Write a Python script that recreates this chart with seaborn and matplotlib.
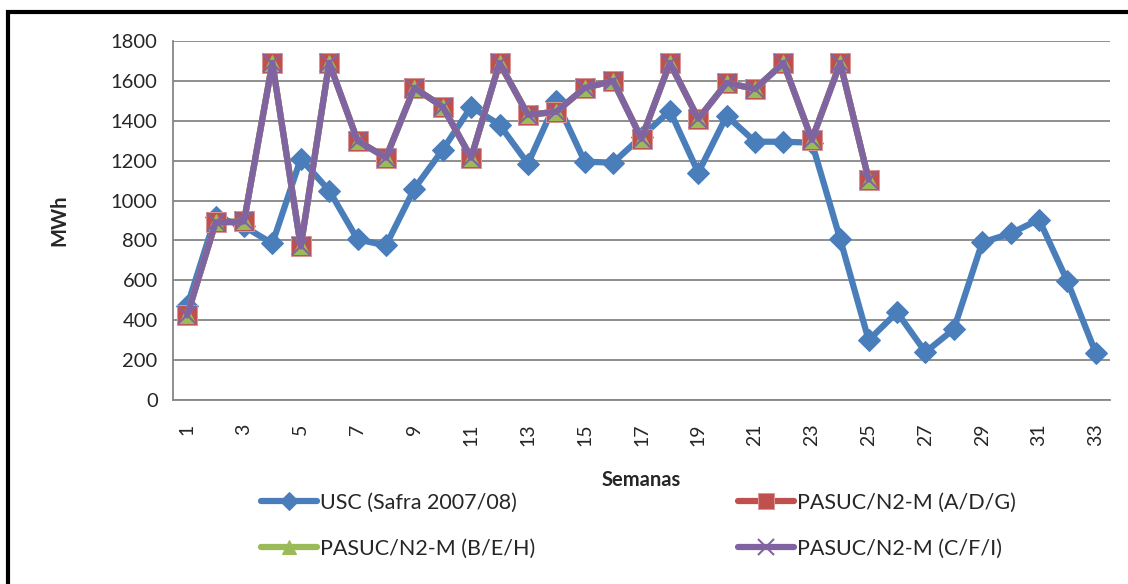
import numpy as np
import pandas as pd
import seaborn as sns
import matplotlib.pyplot as plt
from matplotlib.patches import Rectangle
from matplotlib.ticker import MultipleLocator

# data

weeks_usc = list(range(1, 34))
usc = [470, 920, 870, 785, 1210, 1050, 805, 775, 1060, 1255,
       1470, 1380, 1185, 1500, 1195, 1190, 1320, 1450, 1140, 1425,
       1295, 1295, 1290, 805, 300, 440, 240, 355, 790, 835,
       905, 595, 235]

weeks_pasuc = list(range(1, 26))
pasuc_adg = [425, 890, 895, 1690, 770, 1690, 1300, 1215, 1565, 1470,
             1215, 1690, 1430, 1445, 1565, 1600, 1310, 1690, 1410, 1590,
             1560, 1690, 1305, 1690, 1105]
pasuc_beh = [425, 890, 895, 1690, 770, 1690, 1300, 1215, 1565, 1470,
             1215, 1690, 1430, 1445, 1565, 1600, 1310, 1690, 1410, 1590,
             1560, 1690, 1305, 1690, 1105]
pasuc_cfi = [425, 890, 895, 1690, 770, 1690, 1300, 1215, 1565, 1470,
             1215, 1690, 1430, 1445, 1565, 1600, 1310, 1690, 1410, 1590,
             1560, 1690, 1305, 1690, 1105]

labels = ["USC (Safra 2007/08)", "PASUC/N2-M (A/D/G)",
          "PASUC/N2-M (B/E/H)", "PASUC/N2-M (C/F/I)"]

sns.set_style("white")
plt.rcParams['font.family'] = ['Lato', 'DejaVu Sans']

fig = plt.figure(figsize=(11.28, 5.84), dpi=100)
ax = fig.add_axes([173/1128, 1 - 400/584, (1110-173)/1128, (400-41)/584])

grey = "#868686"

# series
sns.lineplot(x=weeks_usc, y=usc, ax=ax, color="#4A7EBB", lw=4.5,
             marker="D", markersize=11, markeredgecolor="#4A7EBB",
             label=labels[0], zorder=3)
sns.lineplot(x=weeks_pasuc, y=pasuc_adg, ax=ax, color="#C0504D", lw=4.5,
             marker="s", markersize=14, markeredgecolor="#D99694",
             label=labels[1], zorder=4)
sns.lineplot(x=weeks_pasuc, y=pasuc_beh, ax=ax, color="#9BBB59", lw=4.5,
             marker="^", markersize=12, markeredgecolor="#9BBB59",
             label=labels[2], zorder=5)
sns.lineplot(x=weeks_pasuc, y=pasuc_cfi, ax=ax, color="#8064A2", lw=4.5,
             marker="x", markersize=13, markeredgewidth=1.5,
             markeredgecolor="#8064A2", label=labels[3], zorder=6)

ax.set_xlim(0.5, 33.5)
ax.set_ylim(0, 1800)
ax.yaxis.set_major_locator(MultipleLocator(200))
ax.set_xticks(weeks_usc[::2])
ax.set_xticklabels([str(w) for w in weeks_usc[::2]], rotation=90)
ax.set_xticks(np.arange(0.5, 34, 1), minor=True)
ax.tick_params(axis="x", which="major", length=0, pad=17, labelsize=14)
ax.tick_params(axis="x", which="minor", length=7, width=1.3, color=grey)
ax.tick_params(axis="y", which="major", length=7, width=1.3, color=grey,
               labelsize=14.5, pad=4)

ax.grid(axis="y", color=grey, lw=1.3)
ax.set_axisbelow(True)
sns.despine(ax=ax, top=True, right=True)
for s in ["left", "bottom"]:
    ax.spines[s].set_color(grey)
    ax.spines[s].set_linewidth(1.3)

ax.set_xlabel("Semanas", fontsize=14.5, fontweight="bold", labelpad=17)
ax.set_ylabel("MWh", fontsize=14.5, fontweight="bold", labelpad=30)

h, l = ax.get_legend_handles_labels()
ax.get_legend().remove()
order = [0, 2, 1, 3]
fig.legend([h[i] for i in order], [l[i] for i in order], ncol=2,
           loc="center", bbox_to_anchor=(0.566, 0.100), frameon=False,
           fontsize=15.5, handlelength=2.6, handletextpad=0.15,
           columnspacing=9.4, labelspacing=1.2, markerscale=0.85)

# outer chart frame (display coords, origin bottom left)
fig.patches.append(Rectangle((8, -300), 1300, 584 - 12 + 300, transform=None,
                             fill=False, edgecolor="black", lw=3,
                             figure=fig))

fig.savefig("out.png", dpi=100)
